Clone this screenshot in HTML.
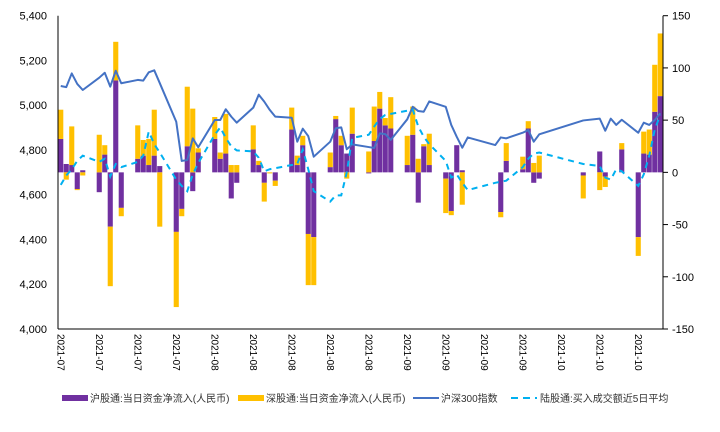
<!DOCTYPE html>
<html><head><meta charset="utf-8"><style>
body{margin:0;background:#fff;}
svg{display:block;font-family:"Liberation Sans","Noto Sans CJK SC",sans-serif;}
</style></head><body>
<svg id="chart" width="720" height="432" viewBox="0 0 720 432" xmlns="http://www.w3.org/2000/svg">
<g id="bars"></g>
<g id="lines"></g>
<g id="axes"></g>
<g id="legend">
  <rect x="62" y="395" width="26" height="6" fill="#7030A0"/>
  <text x="90" y="402" font-size="10" fill="#333">沪股通:当日资金净流入(人民币)</text>
  <rect x="238" y="395" width="26" height="6" fill="#FFC000"/>
  <text x="266" y="402" font-size="10" fill="#333">深股通:当日资金净流入(人民币)</text>
  <line x1="413" y1="398" x2="439" y2="398" stroke="#4472C4" stroke-width="2"/>
  <text x="441" y="402" font-size="10" fill="#333">沪深300指数</text>
  <line x1="511" y1="398" x2="537" y2="398" stroke="#00B0F0" stroke-width="2" stroke-dasharray="7,5"/>
  <text x="540" y="402" font-size="10" fill="#333">陆股通:买入成交额近5日平均</text>
</g>
</svg>
<script>
const barDates = ["07-05","07-06","07-07","07-08","07-09","07-12","07-13","07-14","07-15","07-16","07-19","07-20","07-21","07-22","07-23","07-26","07-27","07-28","07-29","07-30","08-02","08-03","08-04","08-05","08-06","08-09","08-10","08-11","08-12","08-13","08-16","08-17","08-18","08-19","08-20","08-23","08-24","08-25","08-26","08-27","08-30","08-31","09-01","09-02","09-03","09-06","09-07","09-08","09-09","09-10","09-13","09-14","09-15","09-16","09-23","09-24","09-27","09-28","09-29","09-30","10-08","10-11","10-12","10-15","10-18","10-19","10-20","10-21","10-22"];
const shFlow = [32,8,7,-16,2,-19,17,-52,88,-34,13,16,7,16,6,-57,-35,25,-18,19,32,13,18,-25,-10,22,7,-10,0,-8,41,7,26,-59,-62,5,51,26,18,37,-1,30,61,45,42,7,36,-29,25,7,-6,-37,26,2,-38,11,3,42,-10,-6,-3,20,-4,22,-62,18,17,58,73];
const szFlow = [28,-7,37,-1,-3,36,9,-57,37,-8,32,15,25,44,-52,-72,-7,57,61,4,21,6,38,7,7,23,4,-18,-1,-5,21,9,9,-49,-46,14,3,9,-6,25,20,33,16,7,30,28,27,13,2,30,-33,-4,0,-31,-5,17,12,7,9,16,-22,-17,-10,6,-18,21,24,45,60];
const lineDates = ["07-05","07-06","07-07","07-08","07-09","07-12","07-13","07-14","07-15","07-16","07-19","07-20","07-21","07-22","07-23","07-26","07-27","07-28","07-29","07-30","08-02","08-03","08-04","08-05","08-06","08-09","08-10","08-11","08-12","08-13","08-16","08-17","08-18","08-19","08-20","08-23","08-24","08-25","08-26","08-27","08-30","08-31","09-01","09-02","09-03","09-06","09-07","09-08","09-09","09-10","09-13","09-14","09-15","09-16","09-17","09-22","09-23","09-24","09-27","09-28","09-29","09-30","10-08","10-11","10-12","10-13","10-14","10-15","10-18","10-19","10-20","10-21","10-22"];
const hs300 = [5086,5081,5142,5095,5068,5123,5145,5083,5154,5098,5113,5110,5147,5156,5099,4926,4751,4755,4852,4812,4934,4934,4982,4949,4922,4989,5047,5016,4979,4949,4944,4837,4895,4862,4770,4837,4897,4901,4803,4825,4813,4809,4874,4871,4845,4937,4993,4974,4971,5017,4993,4912,4859,4810,4856,4822,4856,4852,4877,4889,4837,4870,4932,4940,4886,4940,4912,4935,4877,4922,4912,4934,4964];
const avgBuy = [-12,-3,3,11,16,10,13,-4,8,5,10,16,39,27,19,-7,-13,-18,-2,9,36,43,33,25,21,20,14,1,3,4,7,8,22,3,-18,-28,-22,-22,0,33,36,44,51,55,56,59,60,44,34,27,11,-5,-2,-10,-17,-10,-9,-8,5,13,18,19,8,6,-5,-7,3,1,-13,-2,16,41,55];
const leftTicks = [4000,4200,4400,4600,4800,5000,5200,5400];
const rightTicks = [-150,-100,-50,0,50,100,150];
const xTickDates = ["07-05","07-12","07-19","07-26","08-02","08-09","08-16","08-23","08-30","09-06","09-13","09-20","09-27","10-04","10-11","10-18"];

const NS = "http://www.w3.org/2000/svg";
const PL = 58, PR = 663, PT = 15.7, PB = 329;
const start = Date.UTC(2021,6,5), DAYS = 110;
function dayIdx(s){const [m,d]=s.split("-").map(Number);return Math.round((Date.UTC(2021,m-1,d)-start)/86400000);}
function xLeft(s){return PL + dayIdx(s)*(PR-PL)/DAYS;}
function xCenter(s){return xLeft(s) + (PR-PL)/DAYS/2;}
function yL(v){return PB - (v-4000)/(5400-4000)*(PB-PT);}
function yR(v){return PB - (v+150)/300*(PB-PT);}
function el(tag, attrs, parent){const e=document.createElementNS(NS,tag);for(const k in attrs)e.setAttribute(k,attrs[k]);parent.appendChild(e);return e;}

const gb = document.getElementById("bars");
barDates.forEach((d,i)=>{
  let pos=0, neg=0;
  [[shFlow[i],"#7030A0","sh"],[szFlow[i],"#FFC000","sz"]].forEach(([v,c,k])=>{
    if(!v) return;
    let a,b;
    if(v>0){a=pos;b=pos+v;pos=b;} else {a=neg;b=neg+v;neg=b;}
    const y1=yR(Math.max(a,b)), y2=yR(Math.min(a,b));
    const r = el("rect",{x:xLeft(d)+0.2,y:y1,width:5.1,height:Math.max(0.5,y2-y1),fill:c},gb);
    
    
  });
});

const gl = document.getElementById("lines");
const p1 = el("polyline",{points:lineDates.map((d,i)=>xCenter(d)+","+yL(hs300[i])).join(" "),fill:"none",stroke:"#4472C4","stroke-width":2,"stroke-linejoin":"round"},gl);


const p2 = el("polyline",{points:lineDates.map((d,i)=>xCenter(d)+","+yR(avgBuy[i])).join(" "),fill:"none",stroke:"#00B0F0","stroke-width":2,"stroke-dasharray":"6,5"},gl);



const ga = document.getElementById("axes");
const la = el("line",{x1:PL,y1:PT,x2:PL,y2:PB,stroke:"#000","stroke-width":1},ga);


const ra = el("line",{x1:PR,y1:PT,x2:PR,y2:PB,stroke:"#000","stroke-width":1},ga);


const xa = el("line",{x1:PL,y1:PB,x2:PR,y2:PB,stroke:"#000","stroke-width":1},ga);


leftTicks.forEach(v=>{
  const t = el("text",{x:47,y:yL(v)+4,"font-size":11,"text-anchor":"end",fill:"#000"},ga);
  t.textContent = v.toLocaleString("en-US");
  
  
});
rightTicks.forEach(v=>{
  const tk = el("line",{x1:PR,y1:yR(v),x2:PR+5,y2:yR(v),stroke:"#000","stroke-width":1},ga);
  
  
  const t = el("text",{x:672,y:yR(v)+4,"font-size":11,fill:"#000"},ga);
  t.textContent = String(v);
  
  
});
xTickDates.forEach(d=>{
  const x = xCenter(d);
  const t = el("text",{x:0,y:0,"font-size":10,fill:"#000",transform:"translate("+(x-3.5)+",334) rotate(90)"},ga);
  t.textContent = "2021-"+d.slice(0,2);
  
  
});
</script>
</body></html>
